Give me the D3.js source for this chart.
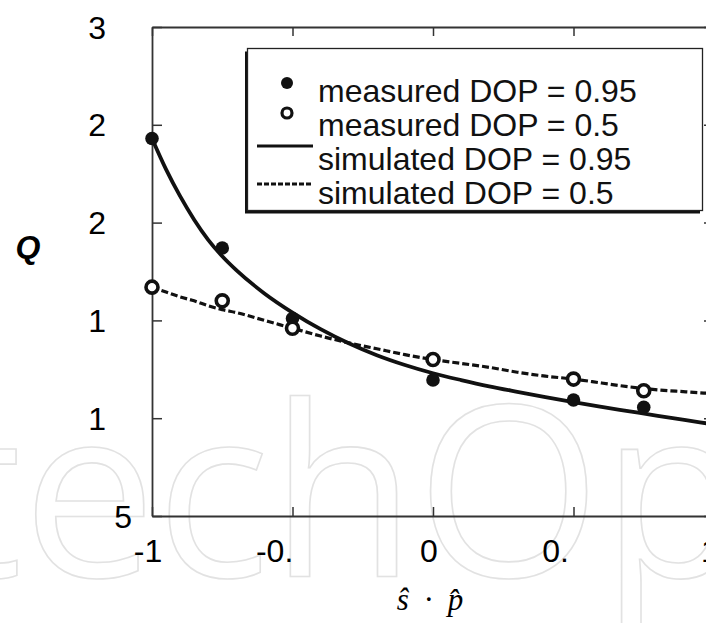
<!DOCTYPE html>
<html>
<head>
<meta charset="utf-8">
<script src="https://cdn.jsdelivr.net/npm/d3@7"></script>
<style>
  body { margin: 0; background: #fff; }
  svg { display: block; }
</style>
</head>
<body>
<svg id="chart" width="706" height="623"></svg>
<script>
// measured points (s.p, Q)
const measuredX = [-1, -0.75, -0.5, 0, 0.5, 0.75];
const measuredHigh = [2.43, 1.87, 1.51, 1.195, 1.093, 1.056];
const measuredLow = [1.67, 1.60, 1.46, 1.30, 1.20, 1.14];

// simulated curves
const simX = [-1, -0.95, -0.9, -0.85, -0.8, -0.75, -0.7, -0.6, -0.5, -0.4, -0.3, -0.2, -0.1,
              0, 0.1, 0.2, 0.3, 0.4, 0.5, 0.6, 0.7, 0.8, 0.9, 1.0];
const simHigh = [2.43, 2.272, 2.135, 2.015, 1.912, 1.828, 1.757, 1.638, 1.54, 1.455, 1.383, 1.322, 1.272,
                 1.23, 1.195, 1.163, 1.135, 1.108, 1.082, 1.058, 1.035, 1.012, 0.99, 0.968];
const simLow = [1.67, 1.645, 1.62, 1.60, 1.575, 1.555, 1.54, 1.50, 1.46, 1.42, 1.385, 1.355, 1.325,
                1.30, 1.28, 1.26, 1.235, 1.215, 1.20, 1.18, 1.16, 1.145, 1.135, 1.125];

const xTicks = [-1, -0.5, 0, 0.5, 1];
const xTickText = ["-1", "-0.", "0", "0.", "1"];
const yTicks = [0.5, 1, 1.5, 2, 2.5, 3];
const yTickText = ["5", "1", "1", "2", "2", "3"];

const legendLabels = [
  "measured DOP = 0.95",
  "measured DOP = 0.5",
  "simulated DOP = 0.95",
  "simulated DOP = 0.5"
];

const svg = d3.select("#chart");
const plotLeft = 152, plotRight = 714, plotTop = 27, plotBottom = 516;

const x = d3.scaleLinear().domain([-1, 1]).range([plotLeft, plotRight]);
const y = d3.scaleLinear().domain([0.5, 3]).range([plotBottom, plotTop]);

// watermark
const wm = svg.append("text")
  .attr("x", 0).attr("y", 577)
  .attr("font-family", "Open Sans")
  .attr("font-size", 238)
  .attr("fill", "none")
  .attr("stroke", "#e2e2e2")
  .attr("stroke-width", 1.6)
  .text("IntechOpen");
const oPos = wm.node().getStartPositionOfChar(6).x;
wm.attr("x", 416 - oPos);

// axes (inward ticks on all four sides)
const axisStyle = g => {
  g.select(".domain").attr("stroke", "#333").attr("stroke-width", 1.8);
  g.selectAll(".tick line").attr("stroke", "#333").attr("stroke-width", 1.5);
  g.selectAll(".tick text").remove();
};
svg.append("g").attr("transform", `translate(0,${plotBottom})`)
  .call(d3.axisBottom(x).tickValues(xTicks).tickSizeInner(-9).tickSizeOuter(0)).call(axisStyle);
svg.append("g").attr("transform", `translate(0,${plotTop})`)
  .call(d3.axisTop(x).tickValues(xTicks).tickSizeInner(-9).tickSizeOuter(0)).call(axisStyle);
svg.append("g").attr("transform", `translate(${plotLeft},0)`)
  .call(d3.axisLeft(y).tickValues(yTicks).tickSizeInner(-10).tickSizeOuter(0)).call(axisStyle);
svg.append("g").attr("transform", `translate(${plotRight},0)`)
  .call(d3.axisRight(y).tickValues(yTicks).tickSizeInner(-10).tickSizeOuter(0)).call(axisStyle);

// tick labels
const font = "Liberation Sans, Arial, sans-serif";
const probe = svg.append("text").attr("font-family", font).attr("font-size", 32).text("5");
const w5 = probe.node().getComputedTextLength();
probe.remove();

svg.append("g").selectAll("text")
  .data(xTicks)
  .enter().append("text")
  .attr("font-family", font).attr("font-size", 32)
  .attr("y", 562)
  .text((d, i) => xTickText[i])
  .each(function (d, i) {
    const w = this.getComputedTextLength();
    const dotted = xTickText[i].endsWith(".");
    const full = dotted ? w + w5 : w;
    d3.select(this).attr("x", x(d) - full / 2 - (dotted ? 9 : 4));
  });

svg.append("g").selectAll("text")
  .data(yTicks)
  .enter().append("text")
  .attr("font-family", font).attr("font-size", 32)
  .attr("text-anchor", "end")
  .attr("x", (d, i) => i === 0 ? plotLeft - 20 : plotLeft - 46)
  .attr("y", d => y(d) + 11.5)
  .text((d, i) => yTickText[i]);

// axis titles
svg.append("text")
  .attr("x", 28).attr("y", 258)
  .attr("text-anchor", "middle")
  .attr("font-family", font).attr("font-size", 32)
  .attr("font-weight", "bold").attr("font-style", "italic")
  .text("Q");

svg.append("text")
  .attr("x", 430).attr("y", 610)
  .attr("text-anchor", "middle")
  .attr("font-family", "Liberation Serif, Times New Roman, serif")
  .attr("font-size", 31).attr("font-style", "italic")
  .text("\u015D\u2002\u00B7\u2002p\u0302");

// simulated curves
const line = d3.line().x(d => x(d[0])).y(d => y(d[1])).curve(d3.curveMonotoneX);
svg.append("path")
  .datum(simX.map((v, i) => [v, simLow[i]]))
  .attr("d", line)
  .attr("fill", "none").attr("stroke", "#111")
  .attr("stroke-width", 3.2).attr("stroke-dasharray", "7,3");
svg.append("path")
  .datum(simX.map((v, i) => [v, simHigh[i]]))
  .attr("d", line)
  .attr("fill", "none").attr("stroke", "#111")
  .attr("stroke-width", 3.8);

// measured markers
svg.append("g").selectAll("circle")
  .data(measuredX.map((v, i) => [v, measuredHigh[i]]))
  .enter().append("circle")
  .attr("cx", d => x(d[0])).attr("cy", d => y(d[1]))
  .attr("r", 6.8).attr("fill", "#111");
svg.append("g").selectAll("circle")
  .data(measuredX.map((v, i) => [v, measuredLow[i]]))
  .enter().append("circle")
  .attr("cx", d => x(d[0])).attr("cy", d => y(d[1]))
  .attr("r", 6).attr("fill", "#fff")
  .attr("stroke", "#111").attr("stroke-width", 3.6);

// legend
const lg = svg.append("g");
lg.append("rect").attr("x", 245).attr("y", 51.5).attr("width", 455).attr("height", 162).attr("fill", "#111");
lg.append("rect").attr("x", 247.5).attr("y", 48.5).attr("width", 455).attr("height", 162)
  .attr("fill", "#fff").attr("stroke", "#222").attr("stroke-width", 1.3);

const rowBase = [102, 136, 170, 204];
lg.selectAll("text.lab")
  .data(legendLabels)
  .enter().append("text")
  .attr("class", "lab")
  .attr("x", 318).attr("y", (d, i) => rowBase[i])
  .attr("font-family", font).attr("font-size", 32)
  .attr("fill", "#111")
  .text(d => d);

lg.append("circle").attr("cx", 287).attr("cy", rowBase[0] - 19).attr("r", 6).attr("fill", "#111");
lg.append("circle").attr("cx", 287).attr("cy", rowBase[1] - 23).attr("r", 5)
  .attr("fill", "#fff").attr("stroke", "#111").attr("stroke-width", 3.2);
lg.append("line").attr("x1", 257).attr("x2", 313).attr("y1", rowBase[2] - 24).attr("y2", rowBase[2] - 24)
  .attr("stroke", "#111").attr("stroke-width", 3);
lg.append("line").attr("x1", 257).attr("x2", 313).attr("y1", rowBase[3] - 20).attr("y2", rowBase[3] - 20)
  .attr("stroke", "#111").attr("stroke-width", 3).attr("stroke-dasharray", "5,2");
</script>
</body>
</html>
